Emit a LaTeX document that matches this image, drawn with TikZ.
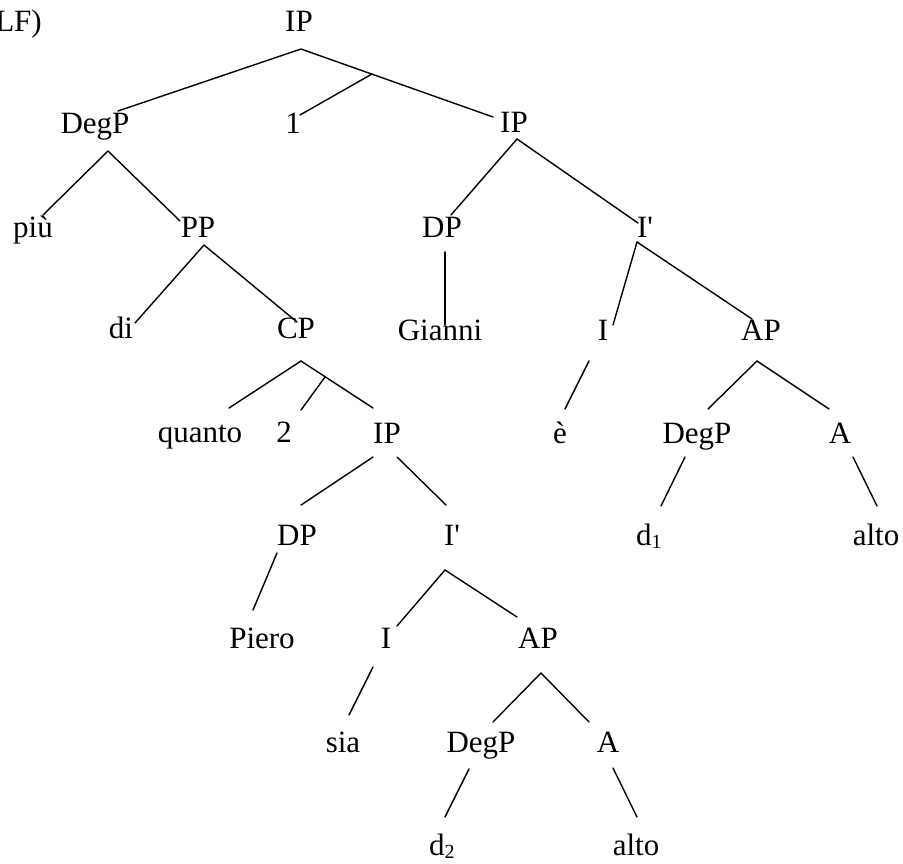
\documentclass[tikz,border=0pt]{standalone}
\usepackage{fontspec}
\setmainfont{Liberation Serif}
\newcommand\sbs[1]{\raisebox{-0.1em}{\fontsize{20}{20}\selectfont #1}}
\begin{document}
\begin{tikzpicture}[x=1pt,y=-1pt,
  lab/.style={inner sep=0pt,anchor=base,font=\fontsize{31}{31}\selectfont},
  edge/.style={line width=1.4pt,line cap=round}]
\useasboundingbox (0,0) rectangle (903,863);
% labels
\node[lab,anchor=base east] (lf) at (42,31) {(LF)};
\node[lab] (ip0) at (299,31) {IP};
\node[lab] (degp0) at (95,133) {DegP};
\node[lab] (one) at (293,133) {1};
\node[lab] (ip1) at (514,132) {IP};
\node[lab] (piu) at (33,237) {più};
\node[lab] (pp) at (198,237) {PP};
\node[lab] (dp1) at (442,237) {DP};
\node[lab] (ibar1) at (645,237) {I\textquotesingle};
\node[lab] (di) at (121,338) {di};
\node[lab] (cp) at (296,338) {CP};
\node[lab] (gianni) at (440,340) {Gianni};
\node[lab] (i1) at (603,340) {I};
\node[lab] (ap1) at (761,340) {AP};
\node[lab] (quanto) at (200,442) {quanto};
\node[lab] (two) at (284,442) {2};
\node[lab] (ip2) at (387,443) {IP};
\node[lab] (e) at (560,443) {è};
\node[lab] (degp1) at (697,443) {DegP};
\node[lab] (a1) at (840,443) {A};
\node[lab] (dp2) at (297,545) {DP};
\node[lab] (ibar2) at (452,545) {I\textquotesingle};
\node[lab,anchor=base west] (done) at (636,545) {d\sbs{1}};
\node[lab] (alto1) at (876,545) {alto};
\node[lab] (piero) at (262,648) {Piero};
\node[lab] (i2) at (386,648) {I};
\node[lab] (ap2) at (538,648) {AP};
\node[lab] (sia) at (343,752) {sia};
\node[lab] (degp2) at (481,752) {DegP};
\node[lab] (a2) at (608,752) {A};
\node[lab,anchor=base west] (dtwo) at (429,855) {d\sbs{2}};
\node[lab] (alto2) at (636,855) {alto};
% connector end points
\coordinate (ip0b) at (301,49);
\coordinate (degp0t) at (118,111);
\coordinate (ip1t) at (493,117);
\coordinate (adj1) at (372,74);
\coordinate (onet) at (300,115);
\coordinate (degp0b) at (108,151);
\coordinate (piut) at (43,215);
\coordinate (ppt) at (180,221);
\coordinate (ppb) at (204,245);
\coordinate (dit) at (135,323);
\coordinate (cpt) at (297,322);
\coordinate (cpb) at (301,361);
\coordinate (quantot) at (229,408);
\coordinate (ip2t) at (373,408);
\coordinate (adj2) at (325,377);
\coordinate (twot) at (301,410);
\coordinate (ip2bl) at (373,457);
\coordinate (ip2br) at (397,457);
\coordinate (dp2t) at (301,505);
\coordinate (ibar2t) at (446,505);
\coordinate (dp2b) at (277,553);
\coordinate (pierot) at (253,610);
\coordinate (ibar2b) at (445,570);
\coordinate (i2t) at (397,626);
\coordinate (ap2t) at (517,617);
\coordinate (i2b) at (373,667);
\coordinate (siat) at (349,715);
\coordinate (ap2b) at (541,673);
\coordinate (degp2t) at (493,722);
\coordinate (a2t) at (589,722);
\coordinate (degp2b) at (469,769);
\coordinate (dtwot) at (445,817);
\coordinate (a2b) at (613,768);
\coordinate (alto2t) at (637,817);
\coordinate (ip1b) at (517,139);
\coordinate (dp1t) at (451,215);
\coordinate (ibar1t) at (638,223);
\coordinate (dp1b) at (445,252);
\coordinate (giannit) at (445,325);
\coordinate (ibar1b) at (637,242);
\coordinate (i1t) at (613,325);
\coordinate (ap1t) at (752,319);
\coordinate (i1b) at (589,361);
\coordinate (et) at (565,409);
\coordinate (ap1b) at (757,361);
\coordinate (degp1t) at (708,409);
\coordinate (a1t) at (829,409);
\coordinate (degp1b) at (685,457);
\coordinate (donet) at (661,506);
\coordinate (a1b) at (853,457);
\coordinate (alto1t) at (877,506);
% connectors
\draw[edge] (degp0t) -- (ip0b) -- (ip1t);
\draw[edge] (adj1) -- (onet);
\draw[edge] (piut) -- (degp0b) -- (ppt);
\draw[edge] (dit) -- (ppb) -- (cpt);
\draw[edge] (quantot) -- (cpb) -- (ip2t);
\draw[edge] (adj2) -- (twot);
\draw[edge] (ip2bl) -- (dp2t);
\draw[edge] (ip2br) -- (ibar2t);
\draw[edge] (dp2b) -- (pierot);
\draw[edge] (i2t) -- (ibar2b) -- (ap2t);
\draw[edge] (i2b) -- (siat);
\draw[edge] (degp2t) -- (ap2b) -- (a2t);
\draw[edge] (degp2b) -- (dtwot);
\draw[edge] (a2b) -- (alto2t);
\draw[edge] (dp1t) -- (ip1b) -- (ibar1t);
\draw[edge] (dp1b) -- (giannit);
\draw[edge] (i1t) -- (ibar1b) -- (ap1t);
\draw[edge] (i1b) -- (et);
\draw[edge] (degp1t) -- (ap1b) -- (a1t);
\draw[edge] (degp1b) -- (donet);
\draw[edge] (a1b) -- (alto1t);
\end{tikzpicture}
\end{document}
